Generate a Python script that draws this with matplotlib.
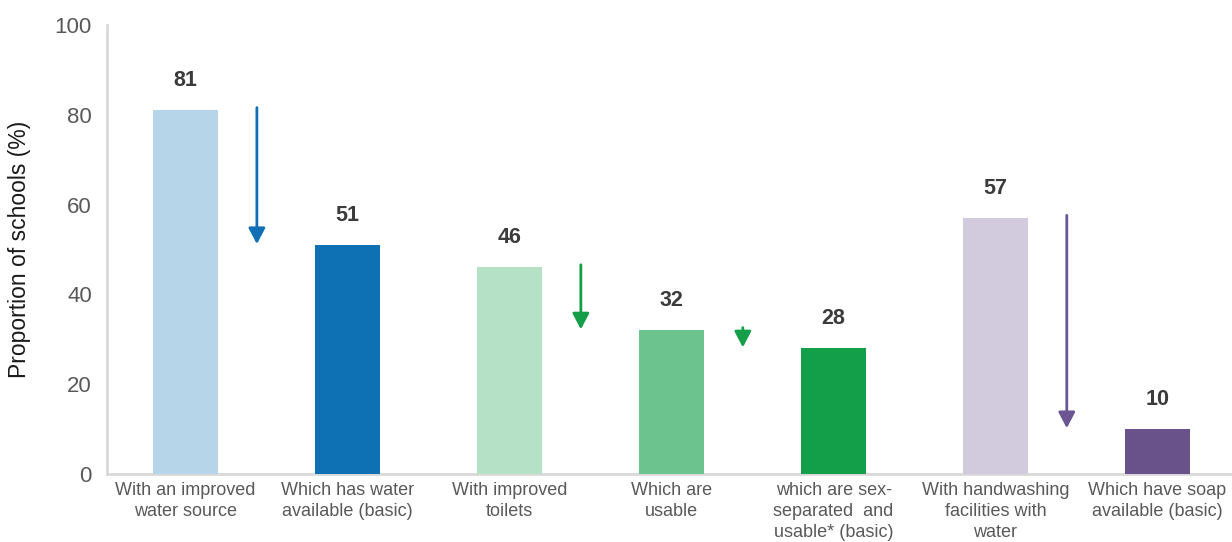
import matplotlib

matplotlib.use("Agg")

import matplotlib.pyplot as plt  # noqa: E402

categories = [
    "With an improved\nwater source",
    "Which has water\navailable (basic)",
    "With improved\ntoilets",
    "Which are\nusable",
    "which are sex-\nseparated  and\nusable* (basic)",
    "With handwashing\nfacilities with\nwater",
    "Which have soap\navailable (basic)",
]
values = [81, 51, 46, 32, 28, 57, 10]
bar_colors = ["#b6d5e9", "#0e71b3", "#b5e1c7", "#6cc38e", "#139f49", "#d2cbdd", "#685289"]

# drop arrows: (from bar, to bar, colour)
drops = [(0, 1, "#1170b5"), (2, 3, "#149e48"), (3, 4, "#149e48"), (5, 6, "#6b5593")]
y_ticks = [0, 20, 40, 60, 80, 100]

plt.rcParams["font.family"] = ["Liberation Sans", "DejaVu Sans"]

fig = plt.figure(figsize=(12.32, 5.42), dpi=100)
ax = fig.add_axes([0.0869, 0.1255, 0.9131, 0.8284])

x = list(range(len(categories)))
ax.bar(x, values, width=0.40, color=bar_colors, zorder=1)

for xi, v in zip(x, values):
    ax.annotate(f"{v}", (xi, v), xytext=(0, 21.5), textcoords="offset points",
                ha="center", va="center", fontsize=15.5, fontweight="bold",
                color="#3b3b3b")

for i, j, c in drops:
    ax.annotate("", xy=(i + 0.44, values[j] + 0.2), xytext=(i + 0.44, values[i] + 0.6),
                arrowprops=dict(arrowstyle="-|>,head_length=0.8,head_width=0.42",
                                color=c, lw=2, mutation_scale=12,
                                shrinkA=0, shrinkB=0))

ax.set_xlim(-0.485, 6.46)
ax.set_ylim(0, 100)
ax.set_yticks(y_ticks)
ax.tick_params(axis="y", length=0, pad=11, labelsize=16, labelcolor="#595959")
ax.set_xticks(x)
ax.set_xticklabels(categories, fontsize=13, color="#595959", linespacing=1.3)
ax.tick_params(axis="x", length=0, pad=6)
ax.set_ylabel("Proportion of schools (%)", fontsize=16.5, color="#1a1a1a")
ax.yaxis.set_label_coords(-0.0676, 0.5)

for side in ("top", "right"):
    ax.spines[side].set_visible(False)
for side in ("left", "bottom"):
    ax.spines[side].set_color("#d9d9d9")
    ax.spines[side].set_linewidth(2)
    ax.spines[side].set_zorder(0)

fig.savefig("out.png", dpi=100)
